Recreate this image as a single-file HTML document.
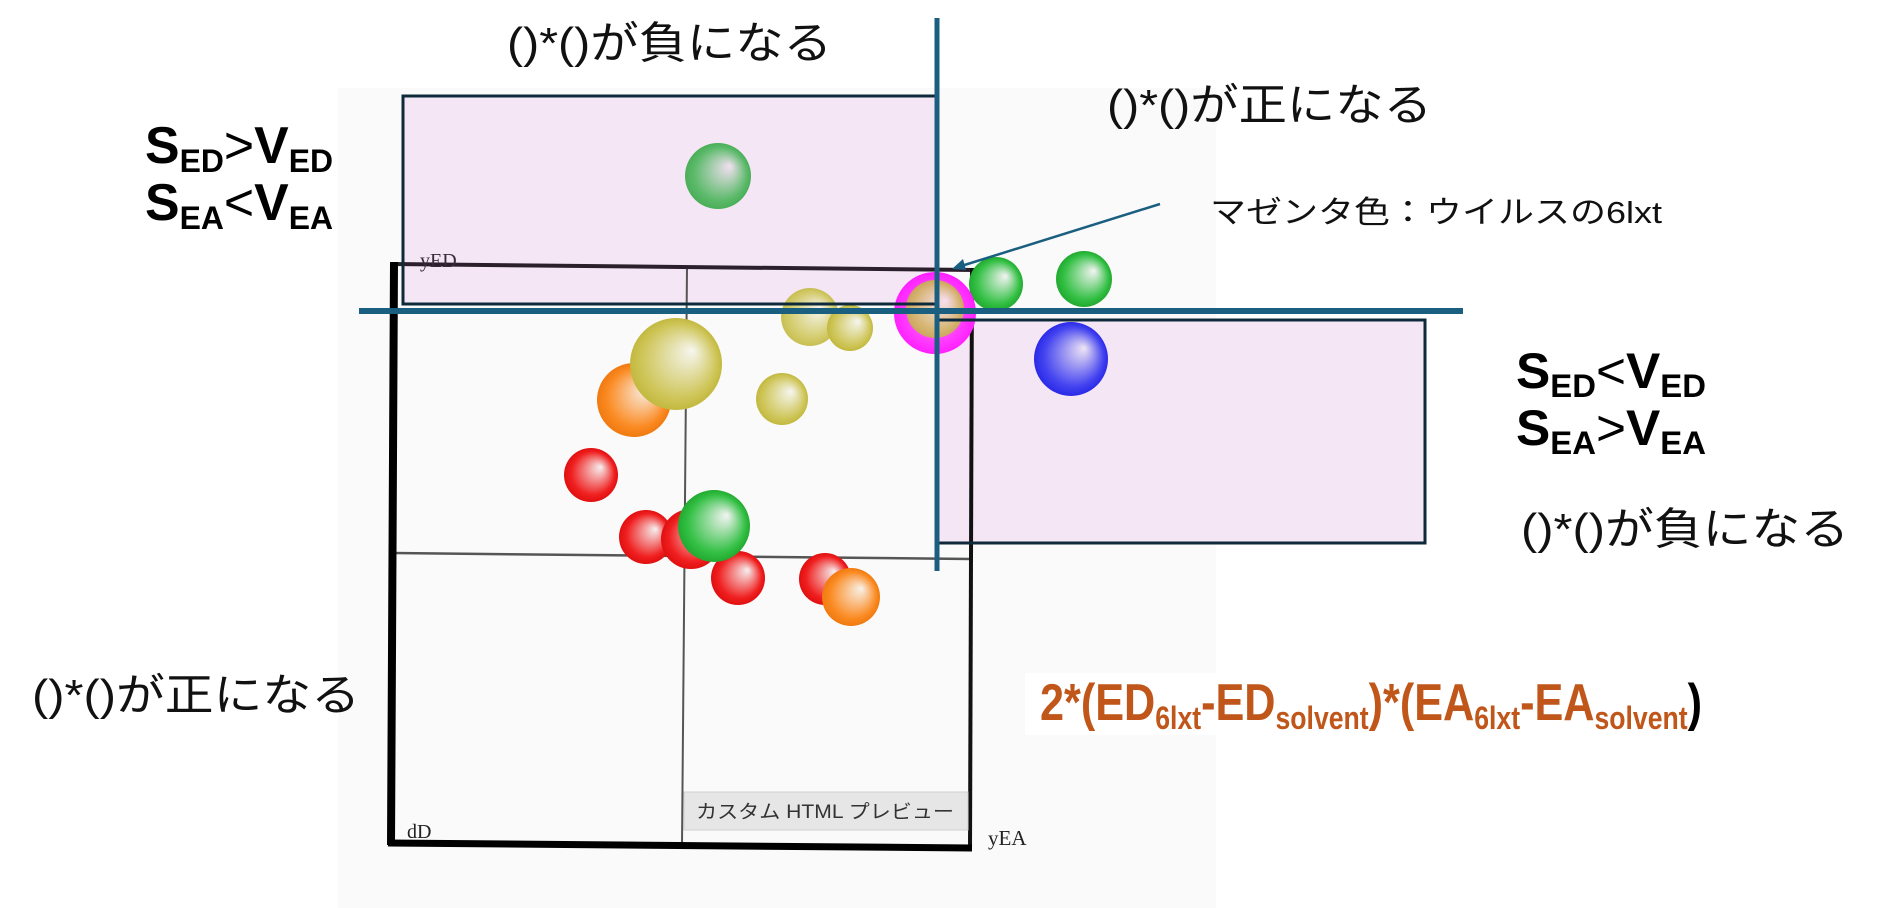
<!DOCTYPE html>
<html><head><meta charset="utf-8"><style>
html,body{margin:0;padding:0;background:#fff;width:1900px;height:908px;overflow:hidden}
svg{display:block}
text{font-family:"Liberation Sans","Noto Sans CJK JP",sans-serif}
</style></head><body>
<svg width="1900" height="908" viewBox="0 0 1900 908" xmlns="http://www.w3.org/2000/svg">
<defs>
<radialGradient id="gG" cx="0.5" cy="0.5" r="0.5" fx="0.68" fy="0.35"><stop offset="0" stop-color="#f4f4f4"/><stop offset="0.8" stop-color="#33c044"/><stop offset="1" stop-color="#22aa30"/></radialGradient>
<radialGradient id="gG2" cx="0.5" cy="0.5" r="0.5" fx="0.68" fy="0.35"><stop offset="0" stop-color="#f2e0f2"/><stop offset="0.8" stop-color="#5cba6a"/><stop offset="1" stop-color="#4aae58"/></radialGradient>
<radialGradient id="gY" cx="0.5" cy="0.5" r="0.5" fx="0.68" fy="0.35"><stop offset="0" stop-color="#f6f6f0"/><stop offset="0.8" stop-color="#cfc65a"/><stop offset="1" stop-color="#c2b940"/></radialGradient>
<radialGradient id="gR" cx="0.5" cy="0.5" r="0.5" fx="0.68" fy="0.35"><stop offset="0" stop-color="#f6f0f0"/><stop offset="0.8" stop-color="#f02020"/><stop offset="1" stop-color="#e01010"/></radialGradient>
<radialGradient id="gO" cx="0.5" cy="0.5" r="0.5" fx="0.68" fy="0.35"><stop offset="0" stop-color="#f8f2ea"/><stop offset="0.8" stop-color="#fb8a22"/><stop offset="1" stop-color="#f07a10"/></radialGradient>
<radialGradient id="gB" cx="0.5" cy="0.5" r="0.5" fx="0.68" fy="0.35"><stop offset="0" stop-color="#f0e6f4"/><stop offset="0.8" stop-color="#4444f0"/><stop offset="1" stop-color="#2a2ae8"/></radialGradient>
<radialGradient id="gM" cx="0.5" cy="0.5" r="0.5"><stop offset="0" stop-color="#ff80ff"/><stop offset="1" stop-color="#ff20ff"/></radialGradient>
</defs>
<rect x="338" y="88" width="878" height="820" fill="#fafafa"/>
<!-- pink fills -->
<rect x="403" y="96" width="533" height="208" fill="#f5e6f5"/>
<rect x="938" y="320" width="487" height="223" fill="#f5e6f5"/>
<!-- grid -->
<line x1="687" y1="268" x2="682" y2="845" stroke="#555" stroke-width="2"/>
<line x1="393" y1="553" x2="971" y2="559" stroke="#555" stroke-width="2.5"/>
<!-- frame -->
<line x1="392" y1="264" x2="975" y2="270" stroke="#2a1f2a" stroke-width="4"/>
<line x1="972" y1="268" x2="970" y2="850" stroke="#111" stroke-width="4"/>
<line x1="394" y1="262" x2="391" y2="845" stroke="#000" stroke-width="8"/>
<line x1="388" y1="843" x2="972" y2="848" stroke="#000" stroke-width="7"/>
<text x="420" y="267" font-size="20" fill="#3a2a3a" style="font-family:'Liberation Serif',serif">yED</text>
<text x="407" y="838" font-size="20" fill="#222" style="font-family:'Liberation Serif',serif">dD</text>
<text x="988" y="845" font-size="21" fill="#222" style="font-family:'Liberation Serif',serif">yEA</text>
<rect x="684" y="792" width="284" height="38" fill="#e6e6e6" stroke="#d0d0d0"/>
<text x="696" y="818" font-size="19" fill="#333" textLength="258" lengthAdjust="spacingAndGlyphs">カスタム HTML プレビュー</text>
<!-- spheres -->
<circle cx="718" cy="176" r="33" fill="url(#gG2)"/>
<circle cx="996" cy="284" r="27" fill="url(#gG)"/>
<circle cx="1084" cy="279" r="28" fill="url(#gG)"/>
<circle cx="1071" cy="359" r="37" fill="url(#gB)"/>
<circle cx="935" cy="313" r="41" fill="url(#gM)"/>
<circle cx="935" cy="309" r="29" fill="url(#gY)" opacity="0.85"/>
<circle cx="810" cy="317" r="29" fill="url(#gY)" opacity="0.9"/>
<circle cx="850" cy="328" r="23" fill="url(#gY)"/>
<circle cx="634" cy="400" r="37" fill="url(#gO)"/>
<circle cx="676" cy="364" r="46" fill="url(#gY)"/>
<circle cx="782" cy="399" r="26" fill="url(#gY)"/>
<circle cx="591" cy="475" r="27" fill="url(#gR)"/>
<circle cx="646" cy="537" r="27" fill="url(#gR)"/>
<circle cx="691" cy="539" r="30" fill="url(#gR)"/>
<circle cx="738" cy="578" r="27" fill="url(#gR)"/>
<circle cx="714" cy="526" r="36" fill="url(#gG)"/>
<circle cx="825" cy="579" r="26" fill="url(#gR)"/>
<circle cx="851" cy="597" r="29" fill="url(#gO)"/>
<!-- pink borders -->
<rect x="403" y="96" width="533" height="208" fill="none" stroke="#0e2a3a" stroke-width="3"/>
<rect x="938" y="320" width="487" height="223" fill="none" stroke="#0e2a3a" stroke-width="3"/>
<!-- blue axes -->
<line x1="937" y1="18" x2="937" y2="571" stroke="#1a5f80" stroke-width="5"/>
<line x1="359" y1="311" x2="1463" y2="311" stroke="#1a5f80" stroke-width="6"/>
<line x1="1160" y1="204" x2="958" y2="267" stroke="#1a5f80" stroke-width="2.5"/>
<polygon points="952,269 963,259 966,270" fill="#1a5f80"/>
<!-- texts -->
<text x="507" y="58" font-size="44" fill="#111" textLength="325" lengthAdjust="spacingAndGlyphs">()*()が負になる</text>
<text x="1107" y="120" font-size="44" fill="#111" textLength="325" lengthAdjust="spacingAndGlyphs">()*()が正になる</text>
<text x="1521" y="544" font-size="44" fill="#111" textLength="328" lengthAdjust="spacingAndGlyphs">()*()が負になる</text>
<text x="32" y="710" font-size="44" fill="#111" textLength="328" lengthAdjust="spacingAndGlyphs">()*()が正になる</text>
<text x="1210" y="223" font-size="31" fill="#111" textLength="452" lengthAdjust="spacingAndGlyphs">マゼンタ色：ウイルスの6lxt</text>
<g font-weight="bold" fill="#000">
<text x="145" y="163" font-size="52" textLength="188" lengthAdjust="spacingAndGlyphs">S<tspan font-size="32" dy="9">ED</tspan><tspan font-size="52" dy="-9" font-weight="normal">&gt;</tspan>V<tspan font-size="32" dy="9">ED</tspan></text>
<text x="145" y="220" font-size="52" textLength="188" lengthAdjust="spacingAndGlyphs">S<tspan font-size="32" dy="9">EA</tspan><tspan font-size="52" dy="-9" font-weight="normal">&lt;</tspan>V<tspan font-size="32" dy="9">EA</tspan></text>
<text x="1516" y="388" font-size="50" textLength="190" lengthAdjust="spacingAndGlyphs">S<tspan font-size="32" dy="9">ED</tspan><tspan font-size="50" dy="-9" font-weight="normal">&lt;</tspan>V<tspan font-size="32" dy="9">ED</tspan></text>
<text x="1516" y="445" font-size="50" textLength="190" lengthAdjust="spacingAndGlyphs">S<tspan font-size="32" dy="9">EA</tspan><tspan font-size="50" dy="-9" font-weight="normal">&gt;</tspan>V<tspan font-size="32" dy="9">EA</tspan></text>
</g>
<rect x="1025" y="673" width="690" height="62" fill="#fff"/>
<text x="1040" y="720" font-size="52" font-weight="bold" fill="#c0561a" textLength="662" lengthAdjust="spacingAndGlyphs">2*(ED<tspan font-size="32" dy="9">6lxt</tspan><tspan dy="-9">-ED</tspan><tspan font-size="32" dy="9">solvent</tspan><tspan dy="-9">)*(EA</tspan><tspan font-size="32" dy="9">6lxt</tspan><tspan dy="-9">-EA</tspan><tspan font-size="32" dy="9">solvent</tspan><tspan dy="-9" fill="#000">)</tspan></text>
</svg>
</body></html>
